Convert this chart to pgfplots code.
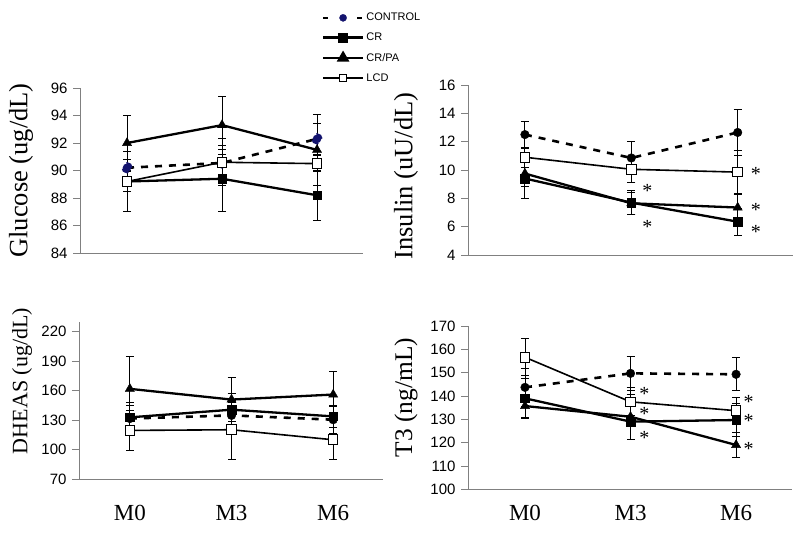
\documentclass[border=0pt]{standalone}
\usepackage{pgfplots}
\pgfplotsset{compat=1.18}
\usepackage{pgfplotstable}
\usepackage{fontspec}
\setmainfont{Liberation Sans}
\newfontfamily\serif{Liberation Serif}
\definecolor{ctrlnavy}{RGB}{20,20,110}
\definecolor{axgray}{RGB}{128,128,128}

% x: 0=M0, 1=M3, 2=M6 ; c=CONTROL, r=CR, p=CR/PA, l=LCD ; *e = error
\pgfplotstableread{
x c ce r re p pe l le
0 90.2 0.6 89.2 0.75 92.0 2.0 89.2 2.2
1 90.55 1.0 89.4 2.4 93.3 2.1 90.6 1.7
2 92.3 1.1 88.2 1.8 91.5 2.6 90.5 0.6
}\glu
\pgfplotstableread{
x c ce r re p pe l le
0 12.5 0.95 9.4 1.4 9.75 0.9 10.9 0.7
1 10.85 1.15 7.7 0.85 7.65 0.8 10.05 0.9
2 12.65 1.65 6.35 0.95 7.35 0.95 9.85 1.5
}\ins
\pgfplotstableread{
x c ce r re p pe l le
0 131.5 13 132.7 15 161.7 33 119.4 20
1 134.7 13 140.5 17 150.8 22 120.1 30
2 130.3 14 133.7 11 155.9 24 109.9 20
}\dhe
\pgfplotstableread{
x c ce r re p pe l le
0 143.7 8.2 139 8.5 135.7 5 156.6 8
1 149.7 7.4 129 7.5 131.1 9.7 137.5 6
2 149.3 7.1 129.7 7 119 5.3 133.7 5.5
}\tth

\tikzset{sigstar/.style={font=\serif\fontsize{20}{20}\selectfont, inner sep=0pt, anchor=center, yshift=-3.4pt}}
\pgfplotsset{
  panel/.style={
    scale only axis, anchor=south west, clip=false,
    axis x line*=bottom, axis y line*=left,
    axis line style={axgray, line width=0.9pt},
    xtick=\empty,
    tick align=outside, major tick length=7pt,
    ytick style={axgray, line width=0.9pt},
    yticklabel style={font=\fontsize{15}{15}\selectfont, black, xshift=-2pt},
    /pgf/number format/assume math mode=true,
  },
  bottompanel/.style={
    xtick={0,1,2}, xticklabels={M0,M3,M6},
    x tick style={draw=none},
    xticklabel style={font=\serif\fontsize{23}{23}\selectfont, anchor=center, yshift=#1},
  },
  errb/.style={error bars/.cd, y dir=both, y explicit,
     error bar style={solid, line width=0.9pt, black},
     error mark options={solid, rotate=90, line width=0.9pt, black, mark size=4pt},
     /pgfplots/.cd},
  sctrl/.style={black, line width=2.6pt, dash pattern=on 7pt off 7pt,
     mark=*, mark size=4.3pt, mark options={solid, line width=0.4pt, fill=black, draw=black}},
  scr/.style={black, line width=2.3pt, mark=square*, mark size=4.3pt,
     mark options={solid, line width=0.4pt, fill=black}},
  scrpa/.style={black, line width=2.3pt, mark=triangle*, mark size=5.3pt,
     mark options={solid, line width=0.4pt, fill=black}},
  slcd/.style={black, line width=1.6pt, mark=square*, mark size=4.8pt,
     mark options={solid, line width=1pt, fill=white, draw=black}},
}

\begin{document}
\begin{tikzpicture}
\useasboundingbox (0pt,0pt) rectangle (800pt,-540pt);

% ---------------- Glucose (top left)
\begin{axis}[panel, at={(80pt,-253pt)}, width=283pt, height=165pt,
  xmin=-0.495, xmax=2.484, ymin=84, ymax=96, ytick={84,86,...,96},
  ylabel={Glucose (ug/dL)},
  ylabel style={font=\serif\fontsize{26.5}{26.5}\selectfont, at={(axis description cs:-0.208,0.5)}, anchor=center},
  legend style={draw=none, fill=none, inner sep=0pt, outer sep=0pt,
    at={(axis description cs:0.854,1.453)}, anchor=north west,
    font=\fontsize{11}{11}\selectfont, row sep=10.8pt,
    nodes={inner sep=0pt},
    /tikz/every odd column/.style={column sep=2pt}},
  legend cell align=left,
  legend image code/.code={\draw[mark repeat=2,mark phase=2] plot coordinates {(0pt,0pt)(20pt,0pt)(40pt,0pt)};},
]
\addlegendimage{black, line width=2.6pt, dash pattern=on 5pt off 12pt, mark=*, mark size=3.6pt, mark options={solid, line width=0.3pt, fill=ctrlnavy, draw=ctrlnavy}}
\addlegendentry{CONTROL}
\addlegendimage{black, line width=2.8pt, mark=square*, mark size=3.8pt, mark options={solid, fill=black}}
\addlegendentry{CR}
\addlegendimage{black, line width=2.8pt, mark=triangle*, mark size=4.6pt, mark options={solid, fill=black}}
\addlegendentry{CR/PA}
\addlegendimage{black, line width=2pt, mark=square*, mark size=3.6pt, mark options={solid, line width=0.8pt, fill=white, draw=black}}
\addlegendentry{LCD}
\addplot[forget plot, sctrl, mark options={fill=ctrlnavy, draw=ctrlnavy}, errb] table[x=x, y=c, y error=ce] {\glu};
\addplot[forget plot, scr, errb] table[x=x, y=r, y error=re] {\glu};
\addplot[forget plot, scrpa, errb] table[x=x, y=p, y error=pe] {\glu};
\addplot[forget plot, slcd, errb] table[x=x, y=l, y error=le] {\glu};
\end{axis}

% ---------------- Insulin (top right)
\begin{axis}[panel, at={(468pt,-255pt)}, width=325pt, height=170pt,
  xmin=-0.535, xmax=2.52, ymin=4, ymax=16, ytick={4,6,...,16},
  ylabel={Insulin (uU/dL)},
  ylabel style={font=\serif\fontsize{26.5}{26.5}\selectfont, at={(axis description cs:-0.191,0.465)}, anchor=center},
]
\addplot[sctrl, errb] table[x=x, y=c, y error=ce] {\ins};
\addplot[scr, errb] table[x=x, y=r, y error=re] {\ins};
\addplot[scrpa, errb] table[x=x, y=p, y error=pe] {\ins};
\addplot[slcd, errb] table[x=x, y=l, y error=le] {\ins};
\node[sigstar] at (axis cs:1.15,8.78) {*};
\node[sigstar] at (axis cs:1.15,6.24) {*};
\node[sigstar] at (axis cs:2.17,9.95) {*};
\node[sigstar] at (axis cs:2.17,7.4) {*};
\node[sigstar] at (axis cs:2.17,5.88) {*};
\end{axis}

% ---------------- DHEAS (bottom left)
\begin{axis}[panel, bottompanel=-27pt, at={(79pt,-479pt)}, width=304pt, height=157.3pt,
  xmin=-0.50, xmax=2.49, ymin=70, ymax=230, ytick={70,100,...,220},
  ylabel={DHEAS (ug/dL)},
  ylabel style={font=\serif\fontsize{22}{22}\selectfont, at={(axis description cs:-0.1875,0.623)}, anchor=center},
]
\addplot[sctrl, errb] table[x=x, y=c, y error=ce] {\dhe};
\addplot[scr, errb] table[x=x, y=r, y error=re] {\dhe};
\addplot[scrpa, errb] table[x=x, y=p, y error=pe] {\dhe};
\addplot[slcd, errb] table[x=x, y=l, y error=le] {\dhe};
\end{axis}

% ---------------- T3 (bottom right)
\begin{axis}[panel, bottompanel=-17pt, at={(468pt,-489.3pt)}, width=324pt, height=163.3pt,
  xmin=-0.54, xmax=2.53, ymin=100, ymax=170, ytick={100,110,...,170},
  ylabel={T3 (ng/mL)},
  ylabel style={font=\serif\fontsize{25.4}{25.4}\selectfont, at={(axis description cs:-0.191,0.562)}, anchor=center},
]
\addplot[sctrl, errb] table[x=x, y=c, y error=ce] {\tth};
\addplot[scr, errb] table[x=x, y=r, y error=re] {\tth};
\addplot[scrpa, errb] table[x=x, y=p, y error=pe] {\tth};
\addplot[slcd, errb] table[x=x, y=l, y error=le] {\tth};
\node[sigstar] at (axis cs:1.13,142.3) {*};
\node[sigstar] at (axis cs:1.13,133.6) {*};
\node[sigstar] at (axis cs:1.13,123.6) {*};
\node[sigstar] at (axis cs:2.12,139) {*};
\node[sigstar] at (axis cs:2.12,130.9) {*};
\node[sigstar] at (axis cs:2.12,118.6) {*};
\end{axis}
\end{tikzpicture}
\end{document}
